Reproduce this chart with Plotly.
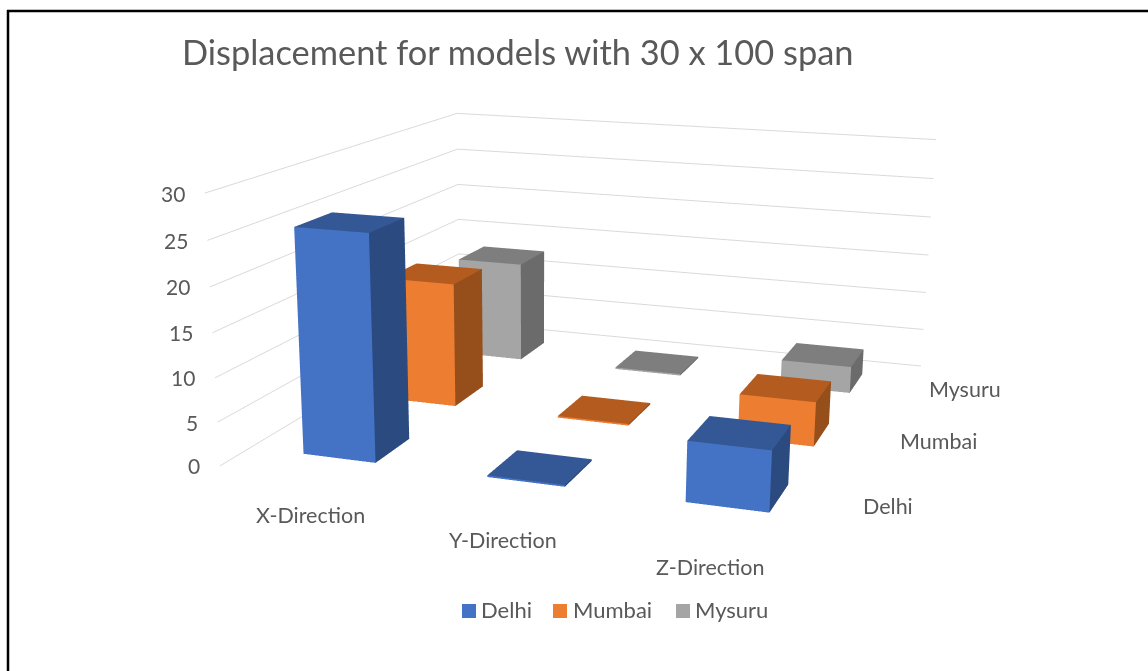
import math
import plotly.graph_objects as go

title = "Displacement for models with 30 x 100 span"
categories = ["X-Direction", "Y-Direction", "Z-Direction"]
series_names = ["Delhi", "Mumbai", "Mysuru"]
delhi = [25.65, 0.2, 6.68]
mumbai = [15.17, 0.2, 5.26]
mysuru = [12.91, 0.2, 3.38]
z_ticks = [0, 5, 10, 15, 20, 25, 30]

series_values = [delhi, mumbai, mysuru]
face_colors = [("#4472C4", "#345795", "#2A4A80"),
               ("#ED7D31", "#B45C20", "#964F1B"),
               ("#A5A5A5", "#7E7E7E", "#6B6B6B")]
half_x, half_y = 0.2002, 0.1986
W, H = 1148, 671
focal, cx, cy = 1700.0, 579.2, 383.0
FONT = "Lato"
TXT = "#595959"

fig = go.Figure()
for si, vals in enumerate(series_values):
    for ci, h in enumerate(vals):
        x0, x1 = ci + .5 - half_x, ci + .5 + half_x
        y0, y1 = si + .5 - half_y, si + .5 + half_y
        top, front, side = face_colors[si]
        fig.add_trace(go.Mesh3d(
            x=[x0, x1, x1, x0, x0, x1, x1, x0],
            y=[y0, y0, y1, y1, y0, y0, y1, y1],
            z=[0, 0, 0, 0, h, h, h, h],
            i=[4, 4, 0, 0, 1, 1], j=[5, 6, 1, 5, 2, 6], k=[6, 7, 5, 4, 6, 5],
            facecolor=[front, front, top, top, side, side],
            flatshading=True, name=series_names[si], hoverinfo="skip",
            lighting=dict(ambient=1, diffuse=0, specular=0, fresnel=0, roughness=1)))

hide = dict(showgrid=False, zeroline=False, showline=False, showticklabels=False,
            showbackground=False, title="", range=[0, 3], showspikes=False, ticks="")
half_w = min(cx, W - cx)
half_h = H - cy
scene_annotations = []
for v in z_ticks:
    scene_annotations.append(dict(x=0, y=0, z=v, text=str(v), showarrow=False, xanchor="right", yanchor="middle",
                                  xshift=-18, yshift=0, font=dict(family=FONT, size=21, color=TXT)))
for ci, c in enumerate(categories):
    scene_annotations.append(dict(x=ci + .5, y=0, z=0, text=c, showarrow=False, xanchor="center", yanchor="middle",
                                  yshift=-37, font=dict(family=FONT, size=21.5, color=TXT)))
for si, s in enumerate(series_names):
    scene_annotations.append(dict(x=3, y=si + .5, z=0, text=s, showarrow=False, xanchor="left", yanchor="middle",
                                  xshift=19, font=dict(family=FONT, size=21.5, color=TXT)))

fig.update_layout(
    width=W, height=H, margin=dict(l=0, r=0, t=0, b=0), paper_bgcolor="white", showlegend=False,
    scene=dict(
        dragmode="orbit",
        domain=dict(x=[(cx - half_w) / W, (cx + half_w) / W], y=[0, 2 * half_h / H]),
        xaxis=hide, yaxis=hide,
        zaxis=dict(range=[0, 30], tickvals=z_ticks, showgrid=True, gridcolor="#D9D9D9", gridwidth=2,
                   zeroline=False, showline=False, showticklabels=False, showbackground=False,
                   title="", showspikes=False, ticks=""),
        aspectmode="manual", aspectratio=dict(x=2.2047, y=2.2274, z=1),
        camera=dict(eye=dict(x=2.0238, y=-6.1999, z=1.5610),
                    center=dict(x=0.0601, y=-0.4932, z=-0.2382),
                    up=dict(x=-0.0063, y=-0.0036, z=1),
                    projection=dict(type="perspective")),
        annotations=scene_annotations))

def px(x): return x / W
def py(y): return 1 - y / H

shapes = [dict(type="line", xref="paper", yref="paper", x0=px(7), x1=px(W), y0=py(11), y1=py(11),
               line=dict(color="black", width=2.5)),
          dict(type="line", xref="paper", yref="paper", x0=px(8), x1=px(8), y0=py(10), y1=py(H),
               line=dict(color="black", width=2.5))]
annots = [dict(xref="paper", yref="paper", x=px(180), y=py(52), xanchor="left", yanchor="middle", showarrow=False,
               text=title, font=dict(family=FONT, size=34.4, color=TXT))]
legend_swatch_left = [462, 553, 676]
legend_text_left = [479, 571, 693]
for si, s in enumerate(series_names):
    shapes.append(dict(type="rect", xref="paper", yref="paper", x0=px(legend_swatch_left[si]),
                       x1=px(legend_swatch_left[si] + 14), y0=py(618), y1=py(604),
                       fillcolor=face_colors[si][0], line=dict(width=0)))
    annots.append(dict(xref="paper", yref="paper", x=px(legend_text_left[si]), y=py(609), xanchor="left",
                       yanchor="middle", showarrow=False, text=s, font=dict(family=FONT, size=22, color=TXT)))
fig.update_layout(shapes=shapes, annotations=annots)

fovy = 2 * math.atan(half_h / focal)
post = """
document.body.style.margin='0';
var gd=document.getElementById('{plot_id}');
(function t(n){var s=gd._fullLayout&&gd._fullLayout.scene&&gd._fullLayout.scene._scene;
 if(s&&s.glplot){s.glplot.fovy=%f;s.glplot.redraw();}
 else if(n>0){setTimeout(function(){t(n-1)},50);}})(100);
""" % fovy
fig.write_html("out.html", post_script=post, config=dict(displayModeBar=False))
